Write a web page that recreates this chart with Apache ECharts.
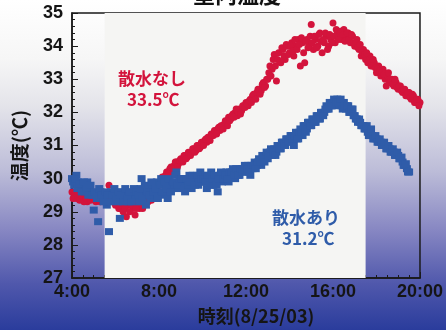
<!DOCTYPE html>
<html>
<head>
<meta charset="utf-8">
<script src="https://cdn.jsdelivr.net/npm/echarts@6/dist/echarts.min.js"></script>
<style>
  html, body { margin: 0; padding: 0; }
  #chart {
    width: 446px; height: 330px;
    background: linear-gradient(to bottom, #ffffff 0%, #f6f6f6 18%, #e4e4ea 32%, #bcbcd8 52%, #8686c2 70%, #5058ac 86%, #2a3c9c 100%);
  }
</style>
</head>
<body>
<div id="chart"></div>
<script>
// sample times (hours of the day)
const hours = [
  4.0, 4.1, 4.2, 4.3, 4.4, 4.5, 4.6, 4.7, 4.8, 4.9,
  5.0, 5.1, 5.2, 5.3, 5.4, 5.5, 5.6, 5.7, 5.8, 5.9,
  6.0, 6.1, 6.2, 6.3, 6.4, 6.5, 6.6, 6.7, 6.8, 6.9,
  7.0, 7.1, 7.2, 7.3, 7.4, 7.5, 7.6, 7.7, 7.8, 7.9,
  8.0, 8.1, 8.2, 8.3, 8.4, 8.5, 8.6, 8.7, 8.8, 8.9,
  9.0, 9.1, 9.2, 9.3, 9.4, 9.5, 9.6, 9.7, 9.8, 9.9,
  10.0, 10.1, 10.2, 10.3, 10.4, 10.5, 10.6, 10.7, 10.8, 10.9,
  11.0, 11.1, 11.2, 11.3, 11.4, 11.5, 11.6, 11.7, 11.8, 11.9,
  12.0, 12.1, 12.2, 12.3, 12.4, 12.5, 12.6, 12.7, 12.8, 12.9,
  13.0, 13.1, 13.2, 13.3, 13.4, 13.5, 13.6, 13.7, 13.8, 13.9,
  14.0, 14.1, 14.2, 14.3, 14.4, 14.5, 14.6, 14.7, 14.8, 14.9,
  15.0, 15.1, 15.2, 15.3, 15.4, 15.5, 15.6, 15.7, 15.8, 15.9,
  16.0, 16.1, 16.2, 16.3, 16.4, 16.5, 16.6, 16.7, 16.8, 16.9,
  17.0, 17.1, 17.2, 17.3, 17.4, 17.5, 17.6, 17.7, 17.8, 17.9,
  18.0, 18.1, 18.2, 18.3, 18.4, 18.5, 18.6, 18.7, 18.8, 18.9,
  19.0, 19.1, 19.2, 19.3, 19.4, 19.5, 19.6, 19.7, 19.8, 19.9,
  20.0
];
// in-between sample times
const hoursMid = [
  4.05, 4.15, 4.25, 4.35, 4.45, 4.55, 4.65, 4.75, 4.85, 4.95,
  5.05, 5.15, 5.25, 5.35, 5.45, 5.55, 5.65, 5.75, 5.85, 5.95,
  6.05, 6.15, 6.25, 6.35, 6.45, 6.55, 6.65, 6.75, 6.85, 6.95,
  7.05, 7.15, 7.25, 7.35, 7.45, 7.55, 7.65, 7.75, 7.85, 7.95,
  8.05, 8.15, 8.25, 8.35, 8.45, 8.55, 8.65, 8.75, 8.85, 8.95,
  9.05, 9.15, 9.25, 9.35, 9.45, 9.55, 9.65, 9.75, 9.85, 9.95,
  10.05, 10.15, 10.25, 10.35, 10.45, 10.55, 10.65, 10.75, 10.85, 10.95,
  11.05, 11.15, 11.25, 11.35, 11.45, 11.55, 11.65, 11.75, 11.85, 11.95,
  12.05, 12.15, 12.25, 12.35, 12.45, 12.55, 12.65, 12.75, 12.85, 12.95,
  13.05, 13.15, 13.25, 13.35, 13.45, 13.55, 13.65, 13.75, 13.85, 13.95,
  14.05, 14.15, 14.25, 14.35, 14.45, 14.55, 14.65, 14.75, 14.85, 14.95,
  15.05, 15.15, 15.25, 15.35, 15.45, 15.55, 15.65, 15.75, 15.85, 15.95,
  16.05, 16.15, 16.25, 16.35, 16.45, 16.55, 16.65, 16.75, 16.85, 16.95,
  17.05, 17.15, 17.25, 17.35, 17.45, 17.55, 17.65, 17.75, 17.85, 17.95,
  18.05, 18.15, 18.25, 18.35, 18.45, 18.55, 18.65, 18.75, 18.85, 18.95,
  19.05, 19.15, 19.25, 19.35, 19.45, 19.55, 19.65, 19.75, 19.85, 19.95
];

// 散水なし (no sprinkling) at hours / hoursMid
const noWater = [
  29.6, 29.5, 29.4, 29.5, 29.4, 29.4, 29.5, 29.3, 29.4, 29.4,
  29.5, 29.3, 29.4, 29.3, 29.6, 29.4, 29.3, 29.8, 29.5, 29.4,
  29.2, 29.3, 29.1, 29.3, 29.2, 28.85, 29.2, 29.3, 29.1, 28.9,
  29.2, 29.1, 29.3, 29.2, 29.4, 29.3, 29.5, 29.4, 29.6, 29.7,
  29.8, 29.9, 30.0, 30.1, 30.2, 30.3, 30.25, 30.4, 30.5, 30.45,
  30.6, 30.5, 30.7, 30.65, 30.75, 30.8, 30.9, 30.85, 31.0, 30.95,
  31.05, 31.15, 31.1, 31.2, 31.35, 31.3, 31.4, 31.5, 31.45, 31.6,
  31.65, 31.7, 31.85, 31.8, 31.95, 32.0, 31.9, 32.1, 32.05, 32.2,
  32.3, 32.2, 32.4, 32.5, 32.45, 32.6, 32.7, 32.65, 32.9, 32.8,
  33.0, 33.4, 33.3, 33.75, 32.95, 33.8, 33.5, 33.9, 33.6, 34.0,
  33.8, 34.1, 33.7, 34.0, 34.2, 33.4, 34.1, 33.5, 34.2, 34.0,
  34.65, 33.9, 34.2, 34.0, 34.4, 33.8, 34.1, 34.3, 34.0, 34.2,
  34.7, 34.1, 34.4, 34.3, 34.2, 34.5, 34.3, 34.4, 34.1, 34.3,
  34.0, 34.2, 33.9, 33.7, 33.9, 33.6, 33.5, 33.7, 33.4, 33.5,
  33.2, 33.4, 33.1, 33.3, 33.0, 33.1, 32.9, 33.0, 32.8, 32.9,
  32.7, 32.8, 32.6, 32.7, 32.5, 32.6, 32.4, 32.5, 32.3, 32.4,
  32.3
];
const noWaterMid = [
  29.4, 29.45, 29.5, 29.35, 29.5, 29.3, 29.4, 29.5, 29.35, 29.45,
  29.4, 29.5, 29.35, 29.45, 29.3, 29.5, 29.6, 29.4, 29.3, 29.35,
  29.3, 29.1, 29.25, 29.0, 29.1, 29.3, 29.0, 29.2, 29.3, 29.1,
  29.3, 29.25, 29.1, 29.4, 29.3, 29.5, 29.35, 29.6, 29.5, 29.8,
  29.9, 30.05, 29.95, 30.2, 30.15, 30.35, 30.3, 30.5, 30.35, 30.55,
  30.55, 30.7, 30.6, 30.8, 30.7, 30.9, 30.8, 31.0, 30.9, 31.1,
  31.0, 31.2, 31.25, 31.15, 31.3, 31.45, 31.35, 31.55, 31.6, 31.5,
  31.75, 31.6, 31.75, 31.9, 31.85, 32.1, 32.0, 31.95, 32.2, 32.15,
  32.25, 32.35, 32.3, 32.55, 32.4, 32.7, 32.55, 32.85, 32.75, 33.0,
  33.2, 33.1, 33.6, 33.4, 33.6, 33.55, 33.95, 33.7, 34.05, 33.75,
  34.0, 33.85, 34.2, 33.9, 34.05, 34.25, 33.8, 34.15, 33.95, 34.3,
  34.1, 34.3, 33.95, 34.35, 34.15, 34.2, 34.4, 33.9, 34.35, 34.1,
  34.3, 34.5, 34.2, 34.45, 34.35, 34.15, 34.4, 34.2, 34.35, 34.1,
  34.1, 33.95, 34.05, 33.8, 33.75, 33.8, 33.55, 33.4, 33.6, 33.35,
  33.3, 33.25, 33.2, 33.15, 32.8, 33.2, 33.0, 32.85, 33.0, 32.75,
  32.8, 32.65, 32.7, 32.5, 32.6, 32.45, 32.55, 32.3, 32.4, 32.2
];

// 散水あり (with sprinkling), ends at 19:30
const withWater = [
  30.0, 29.8, 30.1, 29.9, 29.7, 29.8, 29.6, 29.9, 29.7, 29.6,
  29.05, 29.5, 28.7, 29.6, 29.4, 29.5, 29.2, 28.4, 29.6, 29.4,
  29.5, 29.3, 28.8, 29.6, 29.4, 29.5, 29.3, 29.6, 29.5, 29.4,
  29.6, 29.3, 30.0, 29.5, 29.2, 29.7, 29.4, 29.8, 29.5, 29.9,
  29.6, 30.0, 29.5, 29.8, 29.4, 29.9, 29.7, 29.8, 30.2, 29.7,
  29.8, 30.0, 29.6, 29.9, 30.1, 29.7, 29.9, 30.0, 29.8, 30.2,
  29.9, 30.1, 29.7, 30.0, 30.2, 29.8, 30.0, 29.6, 30.1, 29.9,
  30.0, 30.2, 29.9, 30.1, 30.3, 30.0, 30.2, 30.1, 30.3, 30.2,
  30.2, 30.4, 30.1, 30.3, 30.5, 30.4, 30.6, 30.4, 30.6, 30.7,
  30.6, 30.8, 30.7, 30.9, 30.8, 31.0, 30.9, 31.1, 31.0, 31.2,
  31.1, 31.3, 31.0, 31.4, 31.2, 31.5, 31.3, 31.6, 31.5, 31.7,
  31.6, 31.8, 31.7, 31.9, 31.8, 32.0, 32.0, 32.2, 32.1, 32.2,
  32.3, 32.2, 32.4, 32.3, 32.2, 32.3, 32.1, 32.2, 32.0, 32.1,
  31.9, 31.8, 31.8, 31.6, 31.6, 31.5, 31.4, 31.4, 31.3, 31.2,
  31.2, 31.1, 31.1, 31.0, 31.0, 30.9, 30.9, 30.8, 30.8, 30.7,
  30.7, 30.6, 30.5, 30.4, 30.3, 30.2
];
const withWaterMid = [
  29.9, 30.0, 29.7, 29.85, 29.6, 29.9, 29.7, 29.5, 29.8, 29.5,
  29.6, 29.4, 29.7, 29.5, 29.3, 29.6, 29.5, 29.3, 29.5, 29.7,
  29.4, 29.6, 29.5, 29.3, 29.7, 29.4, 29.6, 29.3, 29.7, 29.6,
  29.5, 29.7, 29.4, 29.8, 29.6, 29.5, 29.9, 29.6, 29.7, 29.4,
  29.8, 29.6, 29.9, 29.7, 30.0, 29.6, 29.9, 30.1, 29.8, 30.0,
  30.0, 29.7, 30.0, 29.8, 29.9, 30.1, 29.8, 30.1, 29.9, 30.0,
  30.0, 29.9, 30.1, 29.8, 30.0, 30.1, 29.8, 30.0, 30.2, 30.0,
  30.1, 30.0, 30.2, 30.2, 30.1, 30.3, 30.1, 30.3, 30.2, 30.4,
  30.3, 30.2, 30.4, 30.4, 30.3, 30.5, 30.5, 30.7, 30.5, 30.8,
  30.7, 30.9, 30.8, 30.7, 31.0, 30.9, 31.1, 31.0, 31.2, 31.1,
  31.3, 31.2, 31.3, 31.2, 31.4, 31.4, 31.6, 31.4, 31.7, 31.6,
  31.8, 31.7, 31.9, 31.8, 32.0, 31.9, 32.1, 32.1, 32.3, 32.2,
  32.4, 32.3, 32.3, 32.4, 32.1, 32.2, 32.2, 32.0, 32.1, 31.9,
  31.8, 31.7, 31.7, 31.6, 31.5, 31.6, 31.3, 31.5, 31.2, 31.3,
  31.1, 31.2, 31.0, 31.1, 30.9, 31.0, 30.8, 30.9, 30.7, 30.8,
  30.6, 30.65, 30.4, 30.45, 30.2
];

// daylight band (hours)
const dayBand = [5.5, 17.5];

const CJK = '"Noto Sans CJK JP", sans-serif';
const NUM = '"Liberation Sans", Arial, sans-serif';
const RED = '#d3143c';
const BLUE = '#2f5ca9';

const pairs = (xs, ys) => ys.map((t, i) => [xs[i], t]);

const chart = echarts.init(document.getElementById('chart'));

chart.setOption({
  animation: false,
  title: {
    text: '室内温度',
    left: 232,
    top: -21,
    textAlign: 'center',
    textStyle: { fontFamily: CJK, fontSize: 22, fontWeight: 'bold', color: '#111' }
  },
  grid: {
    left: 72, right: 23, top: 13, bottom: 51,
    show: true,
    borderColor: '#1a1a1a',
    borderWidth: 1.5,
    backgroundColor: 'transparent'
  },
  xAxis: {
    type: 'value',
    min: 4, max: 20, interval: 4,
    name: '時刻(8/25/03)',
    nameLocation: 'middle',
    nameGap: 29,
    nameTextStyle: { fontFamily: CJK, fontSize: 18, fontWeight: 'bold', color: '#151515', padding: [0, 0, 0, 20] },
    axisLine: { lineStyle: { color: '#1a1a1a', width: 1.5 } },
    axisTick: { inside: true, length: 6, lineStyle: { color: '#1a1a1a' } },
    minorTick: { show: true, splitNumber: 8, length: 3, lineStyle: { color: '#1a1a1a' } },
    splitLine: { show: false },
    axisLabel: {
      margin: 5,
      fontFamily: NUM, fontSize: 18, fontWeight: 'bold', color: '#151515',
      formatter: v => v + ':00'
    }
  },
  yAxis: {
    type: 'value',
    min: 27, max: 35, interval: 1,
    name: '温度(℃)',
    nameLocation: 'middle',
    nameRotate: 90,
    nameGap: 43,
    nameTextStyle: { fontFamily: CJK, fontSize: 19, fontWeight: 'bold', color: '#151515' },
    axisLine: { show: true, lineStyle: { color: '#1a1a1a', width: 1.5 } },
    axisTick: { inside: true, length: 6, lineStyle: { color: '#1a1a1a' } },
    minorTick: { show: true, splitNumber: 5, length: 3, lineStyle: { color: '#1a1a1a' } },
    splitLine: { show: false },
    axisLabel: {
      margin: 9,
      fontFamily: NUM, fontSize: 18, fontWeight: 'bold', color: '#151515'
    }
  },
  graphic: [
    { type: 'text', z: 100, left: 118, top: 70, style: { text: '散水なし', fontFamily: CJK, fontSize: 17, fontWeight: 'bold', fill: RED } },
    { type: 'text', z: 100, left: 127, top: 91, style: { text: '33.5℃', fontFamily: CJK, fontSize: 17, fontWeight: 'bold', fill: RED } },
    { type: 'text', z: 100, left: 272, top: 209, style: { text: '散水あり', fontFamily: CJK, fontSize: 17, fontWeight: 'bold', fill: BLUE } },
    { type: 'text', z: 100, left: 282, top: 230, style: { text: '31.2℃', fontFamily: CJK, fontSize: 17, fontWeight: 'bold', fill: BLUE } }
  ],
  series: [
    {
      type: 'line',
      data: [],
      z: 1,
      silent: true,
      markArea: {
        silent: true,
        itemStyle: { color: '#f5f5f3' },
        data: [[{ xAxis: dayBand[0] }, { xAxis: dayBand[1] }]]
      }
    },
    {
      name: '散水なし',
      type: 'scatter',
      z: 2,
      symbol: 'circle',
      symbolSize: 7,
      itemStyle: { color: RED, opacity: 1 },
      data: pairs(hours, noWater).concat(pairs(hoursMid, noWaterMid))
    },
    {
      name: '散水あり',
      type: 'scatter',
      z: 3,
      symbol: 'rect',
      symbolSize: [8, 7],
      itemStyle: { color: BLUE, opacity: 1 },
      data: pairs(hours, withWater).concat(pairs(hoursMid, withWaterMid))
    }
  ]
});
</script>
</body>
</html>
